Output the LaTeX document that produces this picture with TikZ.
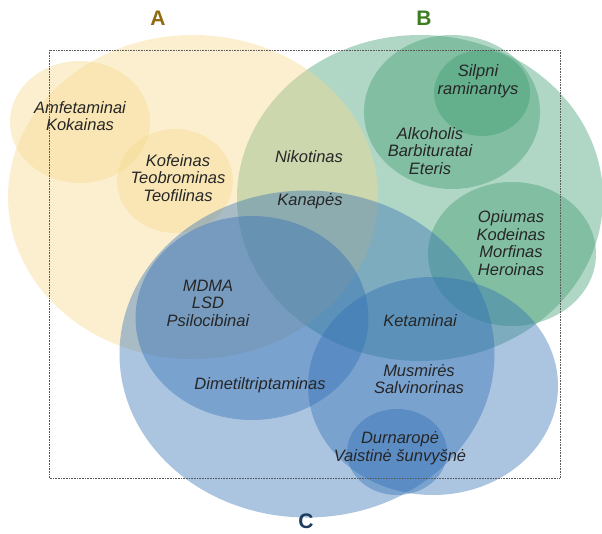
\documentclass[tikz,border=0pt]{standalone}
\usepackage{fontspec}
\setmainfont{Liberation Sans}
\usetikzlibrary{shapes.geometric}
\definecolor{setA}{RGB}{245,216,138}
\definecolor{setB}{RGB}{58,154,110}
\definecolor{setC}{RGB}{46,109,180}
\definecolor{titleA}{RGB}{143,107,14}
\definecolor{titleB}{RGB}{60,125,34}
\definecolor{titleC}{RGB}{30,58,95}
\begin{document}
\begin{tikzpicture}[x=1pt,y=-1pt,
set/.style={ellipse,inner sep=0pt,fill opacity=0.4},
item/.style={font=\itshape\fontsize{16.5}{17.5}\selectfont,align=center,text=black!85,inner sep=0pt},
title/.style={font=\bfseries\fontsize{21}{21}\selectfont,inner sep=0pt}]
\useasboundingbox (0,0) rectangle (602,533);

\node[set,fill=setB,minimum width=366,minimum height=326](B) at (420,198){};
\node[set,fill=setB,minimum width=176,minimum height=154](alko) at (452,112){};
\node[set,fill=setB,minimum width=96,minimum height=86](silpni) at (482,93){};
\node[set,fill=setB,minimum width=168,minimum height=144](opium) at (512,254){};

\node[set,fill=setA,minimum width=370,minimum height=324](A) at (193,197){};
\node[set,fill=setA,minimum width=140,minimum height=122](amfet) at (80,122){};
\node[set,fill=setA,minimum width=116,minimum height=104](kofein) at (175,181){};

\node[set,fill=setC,minimum width=375,minimum height=327](C) at (307,354){};
\node[set,fill=setC,minimum width=233,minimum height=204](mdma) at (252,318){};
\node[set,fill=setC,minimum width=250,minimum height=218](ketam) at (433,386){};
\node[set,fill=setC,minimum width=100,minimum height=86](durna) at (397,452){};

\draw[densely dotted,black!65,line width=0.6pt](49,50) rectangle (560,478);

\node[title,text=titleA](tA) at (158,18){A};
\node[title,text=titleB](tB) at (424,18){B};
\node[title,text=titleC](tC) at (306,521){C};

\node[item](amfetT) at (80,116){Amfetaminai\\Kokainas};
\node[item](kofeinT) at (178,178){Kofeinas\\Teobrominas\\Teofilinas};
\node[item](nikotT) at (309,157){Nikotinas};
\node[item](kanapT) at (310,201){Kanapės};
\node[item](silpniT) at (478,81){Silpni\\raminantys};
\node[item](alkoT) at (430,151){Alkoholis\\Barbituratai\\Eteris};
\node[item](opiumT) at (511,243){Opiumas\\Kodeinas\\Morfinas\\Heroinas};
\node[item](mdmaT) at (208,303){MDMA\\LSD\\Psilocibinai};
\node[item](ketamT) at (420,321){Ketaminai};
\node[item](dimetT) at (260,385){Dimetiltriptaminas};
\node[item](musmT) at (419,379){Musmirės\\Salvinorinas};
\node[item](durnaT) at (400,448){Durnaropė\\Vaistinė šunvyšnė};
\end{tikzpicture}
\end{document}
